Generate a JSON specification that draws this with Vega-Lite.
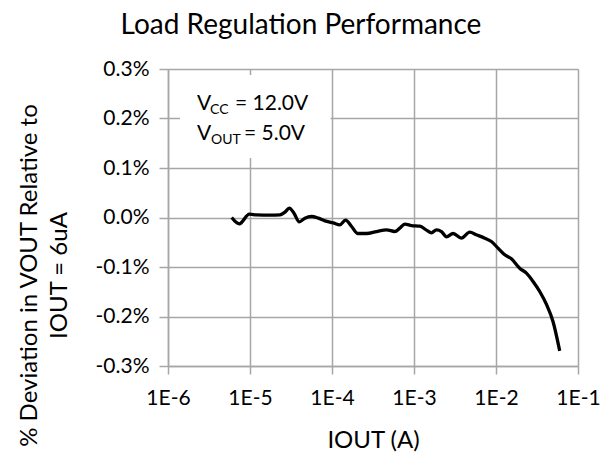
{
  "$schema": "https://vega.github.io/schema/vega-lite/v6.json",
  "autosize": {"type": "none"},
  "width": 410,
  "height": 297,
  "padding": {"left": 168, "top": 69, "right": 35, "bottom": 94},
  "background": "white",
  "title": {
    "text": "Load Regulation Performance",
    "font": "Lato",
    "fontSize": 28,
    "fontWeight": "normal",
    "color": "#000000",
    "anchor": "middle",
    "baseline": "bottom",
    "offset": -10,
    "dx": -72
  },
  "layer": [
    {
      "data": {"values": [{}]},
      "mark": {"type": "rect", "fill": "white", "stroke": null},
      "encoding": {
        "x": {"datum": 1.4e-6, "type": "quantitative", "scale": {"type": "log", "domain": [1e-6, 0.1]}, "title": "IOUT (A)"},
        "x2": {"datum": 9.6e-5},
        "y": {"datum": 0.00288, "type": "quantitative", "scale": {"domain": [-0.003, 0.003]}, "title": ["% Deviation in VOUT Relative to", "IOUT = 6uA"]},
        "y2": {"datum": 0.0012}
      }
    },
    {
      "data": {
        "values": [
          {"I": 5.98e-6, "dev": 0},
          {"I": 7.41e-6, "dev": -0.000128},
          {"I": 9.82e-6, "dev": 0.000067},
          {"I": 1.205e-5, "dev": 0.000054},
          {"I": 1.754e-5, "dev": 0.000047},
          {"I": 2.317e-5, "dev": 0.000054},
          {"I": 2.667e-5, "dev": 0.000108},
          {"I": 3.013e-5, "dev": 0.000189},
          {"I": 3.436e-5, "dev": 0.000088},
          {"I": 3.99e-5, "dev": -0.000088},
          {"I": 4.677e-5, "dev": -0.000013},
          {"I": 5.636e-5, "dev": 0.00002},
          {"I": 6.808e-5, "dev": -0.000013},
          {"I": 8.2e-5, "dev": -0.000067},
          {"I": 1.035e-4, "dev": -0.000108},
          {"I": 1.247e-4, "dev": -0.000148},
          {"I": 1.462e-4, "dev": -0.000054},
          {"I": 1.734e-4, "dev": -0.000182},
          {"I": 2.051e-4, "dev": -0.000323},
          {"I": 2.636e-4, "dev": -0.000323},
          {"I": 3.491e-4, "dev": -0.000283},
          {"I": 4.624e-4, "dev": -0.000249},
          {"I": 5.834e-4, "dev": -0.000283},
          {"I": 6.714e-4, "dev": -0.000215},
          {"I": 7.727e-4, "dev": -0.000135},
          {"I": 9.33e-4, "dev": -0.000162},
          {"I": 1.178e-3, "dev": -0.000175},
          {"I": 1.419e-3, "dev": -0.000256},
          {"I": 1.633e-3, "dev": -0.00031},
          {"I": 1.879e-3, "dev": -0.000249},
          {"I": 2.163e-3, "dev": -0.000283},
          {"I": 2.489e-3, "dev": -0.00039},
          {"I": 2.999e-3, "dev": -0.000323},
          {"I": 3.784e-3, "dev": -0.000418},
          {"I": 4.786e-3, "dev": -0.000296},
          {"I": 5.768e-3, "dev": -0.00035},
          {"I": 7.295e-3, "dev": -0.000418},
          {"I": 8.79e-3, "dev": -0.000485},
          {"I": 1.059e-2, "dev": -0.00062},
          {"I": 1.279e-2, "dev": -0.000754},
          {"I": 1.542e-2, "dev": -0.000835},
          {"I": 1.945e-2, "dev": -0.001024},
          {"I": 2.35e-2, "dev": -0.001125},
          {"I": 2.831e-2, "dev": -0.001293},
          {"I": 3.412e-2, "dev": -0.001495},
          {"I": 4.111e-2, "dev": -0.001751},
          {"I": 4.955e-2, "dev": -0.002101},
          {"I": 5.984e-2, "dev": -0.002694}
        ]
      },
      "mark": {"type": "line", "color": "black", "strokeWidth": 3.3, "interpolate": "monotone", "clip": true},
      "encoding": {
        "x": {
          "field": "I", "type": "quantitative",
          "scale": {"type": "log", "domain": [1e-6, 0.1]},
          "title": "IOUT (A)",
          "axis": {
            "values": [1e-6, 1e-5, 1e-4, 1e-3, 1e-2, 1e-1],
            "labelExpr": "'1E' + round(log(datum.value) / LN10)",
            "labelPadding": 13,
            "titlePadding": 20
          }
        },
        "y": {
          "field": "dev", "type": "quantitative",
          "scale": {"domain": [-0.003, 0.003]},
          "title": ["% Deviation in VOUT Relative to", "IOUT = 6uA"],
          "axis": {
            "values": [-0.003, -0.002, -0.001, 0, 0.001, 0.002, 0.003],
            "format": ".1%",
            "labelExpr": "replace(datum.label, '−', '-')",
            "labelPadding": 10,
            "tickSize": 9,
            "titleX": -151,
            "titleY": 206,
            "titleAlign": "center",
            "titleBaseline": "top",
            "titleLineHeight": 30,
            "titleAngle": 270
          }
        }
      }
    },
    {
      "data": {"values": [{}]},
      "mark": {"type": "text", "align": "left", "baseline": "alphabetic", "fontSize": 21, "font": "Lato", "color": "black"},
      "encoding": {
        "x": {"datum": 2.26e-6, "type": "quantitative", "scale": {"type": "log", "domain": [1e-6, 0.1]}, "title": "IOUT (A)"},
        "y": {"datum": 0.00217, "type": "quantitative", "scale": {"domain": [-0.003, 0.003]}, "title": ["% Deviation in VOUT Relative to", "IOUT = 6uA"]},
        "text": {"value": "V"}
      }
    },
    {
      "data": {"values": [{}]},
      "mark": {"type": "text", "align": "left", "baseline": "alphabetic", "fontSize": 14, "font": "Lato", "color": "black"},
      "encoding": {
        "x": {"datum": 3.25e-6, "type": "quantitative", "scale": {"type": "log", "domain": [1e-6, 0.1]}, "title": "IOUT (A)"},
        "y": {"datum": 0.00209, "type": "quantitative", "scale": {"domain": [-0.003, 0.003]}, "title": ["% Deviation in VOUT Relative to", "IOUT = 6uA"]},
        "text": {"value": "CC"}
      }
    },
    {
      "data": {"values": [{}]},
      "mark": {"type": "text", "align": "left", "baseline": "alphabetic", "fontSize": 21, "font": "Lato", "color": "black"},
      "encoding": {
        "x": {"datum": 6.56e-6, "type": "quantitative", "scale": {"type": "log", "domain": [1e-6, 0.1]}, "title": "IOUT (A)"},
        "y": {"datum": 0.00217, "type": "quantitative", "scale": {"domain": [-0.003, 0.003]}, "title": ["% Deviation in VOUT Relative to", "IOUT = 6uA"]},
        "text": {"value": "= 12.0V"}
      }
    },
    {
      "data": {"values": [{}]},
      "mark": {"type": "text", "align": "left", "baseline": "alphabetic", "fontSize": 21, "font": "Lato", "color": "black"},
      "encoding": {
        "x": {"datum": 2.26e-6, "type": "quantitative", "scale": {"type": "log", "domain": [1e-6, 0.1]}, "title": "IOUT (A)"},
        "y": {"datum": 0.001566, "type": "quantitative", "scale": {"domain": [-0.003, 0.003]}, "title": ["% Deviation in VOUT Relative to", "IOUT = 6uA"]},
        "text": {"value": "V"}
      }
    },
    {
      "data": {"values": [{}]},
      "mark": {"type": "text", "align": "left", "baseline": "alphabetic", "fontSize": 14, "font": "Lato", "color": "black"},
      "encoding": {
        "x": {"datum": 3.34e-6, "type": "quantitative", "scale": {"type": "log", "domain": [1e-6, 0.1]}, "title": "IOUT (A)"},
        "y": {"datum": 0.001485, "type": "quantitative", "scale": {"domain": [-0.003, 0.003]}, "title": ["% Deviation in VOUT Relative to", "IOUT = 6uA"]},
        "text": {"value": "OUT"}
      }
    },
    {
      "data": {"values": [{}]},
      "mark": {"type": "text", "align": "left", "baseline": "alphabetic", "fontSize": 21, "font": "Lato", "color": "black"},
      "encoding": {
        "x": {"datum": 8.45e-6, "type": "quantitative", "scale": {"type": "log", "domain": [1e-6, 0.1]}, "title": "IOUT (A)"},
        "y": {"datum": 0.001566, "type": "quantitative", "scale": {"domain": [-0.003, 0.003]}, "title": ["% Deviation in VOUT Relative to", "IOUT = 6uA"]},
        "text": {"value": "= 5.0V"}
      }
    }
  ],
  "config": {
    "font": "Lato",
    "view": {"stroke": null},
    "axis": {
      "grid": true,
      "domainColor": "#a6a6a6",
      "domainWidth": 1.5,
      "gridColor": "#a6a6a6",
      "gridWidth": 1.5,
      "gridOpacity": 1,
      "tickColor": "#a6a6a6",
      "tickWidth": 1.5,
      "tickSize": 8,
      "labelFont": "Lato",
      "labelFontSize": 21,
      "labelColor": "#000000",
      "titleFont": "Lato",
      "titleFontSize": 24,
      "titleFontWeight": "normal",
      "titleColor": "#000000",
      "labelOverlap": false,
      "labelFlush": false
    }
  }
}
